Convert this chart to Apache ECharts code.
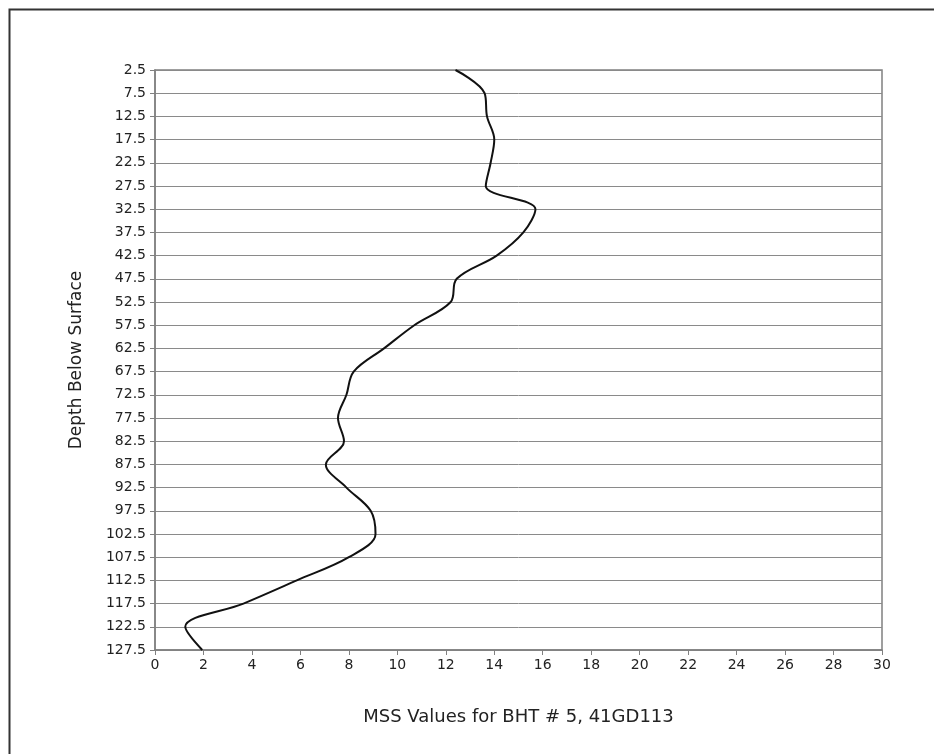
<!DOCTYPE html>
<html>
<head>
<meta charset="utf-8">
<script src="https://cdn.jsdelivr.net/npm/echarts@6/dist/echarts.min.js"></script>
<style>
html,body{margin:0;padding:0;background:#fff;}
#c{width:934px;height:754px;}
</style>
</head>
<body>
<div id="c"></div>
<script>
const depths = ['2.5','7.5','12.5','17.5','22.5','27.5','32.5','37.5','42.5','47.5','52.5','57.5','62.5','67.5','72.5','77.5','82.5','87.5','92.5','97.5','102.5','107.5','112.5','117.5','122.5','127.5'];
const mssValues = [12.4,13.6,13.7,14.0,13.85,13.65,15.7,15.2,14.1,12.45,12.2,10.7,9.45,8.2,7.9,7.55,7.8,7.05,7.9,8.9,9.1,8.0,5.85,3.65,1.25,1.95];
const xTitle = 'MSS Values for BHT # 5, 41GD113';
const yTitle = 'Depth Below Surface';

const chart = echarts.init(document.getElementById('c'), null, {renderer:'canvas'});
const font = '"DejaVu Sans", sans-serif';
chart.setOption({
  animation:false,
  backgroundColor:'#fff',
  graphic:[
    {type:'polyline', shape:{points:[[9.5,754],[9.5,9.5],[934,9.5]]}, style:{stroke:'#333',lineWidth:2,fill:null}}
  ],
  grid:{left:155,right:52,top:70,bottom:104,show:true,borderColor:'#808080',borderWidth:1.5},
  xAxis:{
    type:'value',min:0,max:30,interval:2,
    name:xTitle,nameLocation:'middle',nameGap:58,
    nameTextStyle:{fontFamily:font,fontSize:18,color:'#222'},
    axisLine:{show:true,lineStyle:{color:'#808080',width:1.5}},
    axisTick:{show:true,length:5,lineStyle:{color:'#808080'}},
    axisLabel:{fontFamily:font,fontSize:14,color:'#222',margin:8},
    splitLine:{show:false}
  },
  yAxis:{
    type:'category',data:depths,inverse:true,boundaryGap:false,
    name:yTitle,nameLocation:'middle',nameGap:70,nameRotate:90,
    nameTextStyle:{fontFamily:font,fontSize:17,color:'#222'},
    axisLine:{show:true,lineStyle:{color:'#808080',width:1.5}},
    axisTick:{show:true,length:5,lineStyle:{color:'#808080'}},
    axisLabel:{fontFamily:font,fontSize:14,color:'#222',margin:9},
    splitLine:{show:true,lineStyle:{color:'#8a8a8a',width:1}}
  },
  series:[{
    type:'line',
    data:mssValues.map((v,i)=>[v,depths[i]]),
    smooth:0.35,
    showSymbol:false,
    lineStyle:{color:'#111',width:2}
  }]
});
</script>
</body>
</html>
